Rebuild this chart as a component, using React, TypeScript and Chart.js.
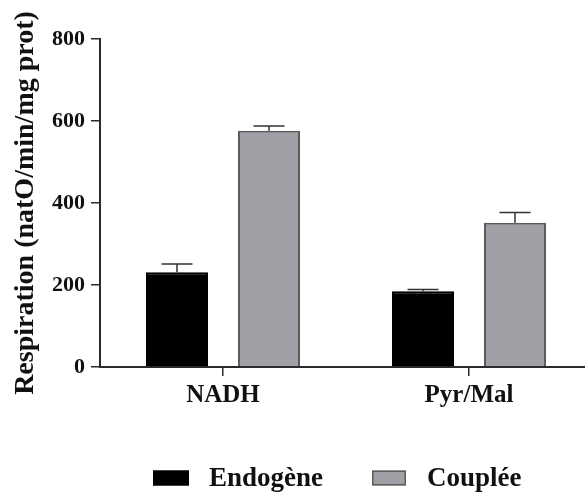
import React, { useEffect, useRef } from "react";
import { Chart, registerables } from "chart.js";

Chart.register(...registerables);

const categories = ["NADH", "Pyr/Mal"];
const seriesNames = ["Endogène", "Couplée"];
const endogene = [231, 185];
const endogeneErr = [20, 4];
const couplee = [576, 352];
const coupleeErr = [12, 25];
const yTicks = [0, 200, 400, 600, 800];
const yTitle = "Respiration (natO/min/mg prot)";

const FONT = "'Liberation Serif', 'Times New Roman', serif";
const AXIS = "#2a2a2a";
const GRAY = "#a19fa5";
const GRAY_BORDER = "#5c5c5c";

const errorBarPlugin = {
  id: "errorBars",
  afterDatasetsDraw(chart: any) {
    const ctx = chart.ctx;
    const yScale = chart.scales.y;
    chart.data.datasets.forEach((ds: any, di: number) => {
      const meta = chart.getDatasetMeta(di);
      const errs: number[] = ds.errors || [];
      meta.data.forEach((bar: any, i: number) => {
        const v = ds.data[i];
        const e = errs[i] || 0;
        const x = bar.x;
        const yTop = yScale.getPixelForValue(v);
        const yErr = yScale.getPixelForValue(v + e);
        const half = bar.width / 4;
        ctx.save();
        ctx.strokeStyle = "#333";
        ctx.lineWidth = 1.5;
        ctx.beginPath();
        ctx.moveTo(x, yTop);
        ctx.lineTo(x, yErr);
        ctx.moveTo(x - half, yErr);
        ctx.lineTo(x + half, yErr);
        ctx.stroke();
        ctx.restore();
      });
    });
  },
};

const legendPlugin = {
  id: "customLegend",
  afterDraw(chart: any, _args: any, opts: any) {
    const ctx = chart.ctx;
    const items = chart.data.datasets;
    ctx.save();
    ctx.font = `bold ${opts.fontSize}px ${FONT}`;
    ctx.textBaseline = "middle";
    items.forEach((ds: any, i: number) => {
      const bx = opts.boxX[i];
      const tx = opts.textX[i];
      const cy = opts.centerY;
      ctx.fillStyle = ds.backgroundColor;
      ctx.fillRect(bx, cy - opts.boxH / 2, opts.boxW[i], opts.boxH);
      ctx.strokeStyle = ds.borderColor;
      ctx.lineWidth = 1.5;
      ctx.strokeRect(bx + 0.75, cy - opts.boxH / 2 + 0.75, opts.boxW[i] - 1.5, opts.boxH - 1.5);
      ctx.fillStyle = "#111";
      ctx.fillText(ds.label, tx, cy + 1);
    });
    ctx.restore();
  },
};

export default function App() {
  const ref = useRef<HTMLCanvasElement | null>(null);

  useEffect(() => {
    if (!ref.current) return;
    const chart = new Chart(ref.current, {
      type: "bar",
      data: {
        labels: categories,
        datasets: [
          {
            label: seriesNames[0],
            data: endogene,
            errors: endogeneErr,
            backgroundColor: "#000000",
            borderColor: "#000000",
            borderWidth: 2,
            categoryPercentage: 0.748,
            barPercentage: 0.674,
          } as any,
          {
            label: seriesNames[1],
            data: couplee,
            errors: coupleeErr,
            backgroundColor: GRAY,
            borderColor: GRAY_BORDER,
            borderWidth: 2,
            categoryPercentage: 0.748,
            barPercentage: 0.674,
          } as any,
        ],
      },
      options: {
        animation: false,
        responsive: false,
        layout: { padding: { top: 39, left: 0, right: 0, bottom: 0 } },
        plugins: {
          legend: { display: false },
          tooltip: { enabled: false },
          customLegend: {
            fontSize: 27,
            centerY: 478,
            boxX: [153, 372],
            textX: [209, 427],
            boxW: [36, 34],
            boxH: 15,
          },
        } as any,
        scales: {
          x: {
            offset: true,
            grid: {
              offset: false,
              drawOnChartArea: false,
              drawTicks: true,
              tickLength: 9,
              color: AXIS,
              lineWidth: 1.5,
            },
            border: { display: true, color: AXIS, width: 2 },
            ticks: {
              color: "#111",
              padding: 5,
              font: { family: FONT, size: 25, weight: "bold" },
            },
            afterFit(scale: any) {
              scale.height = 125;
            },
          },
          y: {
            min: 0,
            max: 800,
            afterBuildTicks(scale: any) {
              scale.ticks = yTicks.map((v) => ({ value: v }));
            },
            grid: {
              drawOnChartArea: false,
              drawTicks: true,
              tickLength: 9,
              color: AXIS,
              lineWidth: 1.5,
            },
            border: { display: true, color: AXIS, width: 2 },
            ticks: {
              color: "#111",
              padding: 6,
              font: { family: FONT, size: 22, weight: "bold" },
            },
            title: {
              display: true,
              text: yTitle,
              color: "#111",
              padding: { top: 9, bottom: 0 },
              font: { family: FONT, size: 28, weight: "bold" },
            },
            afterFit(scale: any) {
              scale.width = 100;
            },
          },
        },
      },
      plugins: [errorBarPlugin, legendPlugin],
    } as any);
    return () => chart.destroy();
  }, []);

  return (
    <div
      style={{
        position: "fixed",
        left: 0,
        top: 0,
        width: 585,
        height: 492,
        overflow: "hidden",
        background: "#fff",
      }}
    >
      <canvas ref={ref} width={592} height={492} style={{ display: "block" }} />
    </div>
  );
}
